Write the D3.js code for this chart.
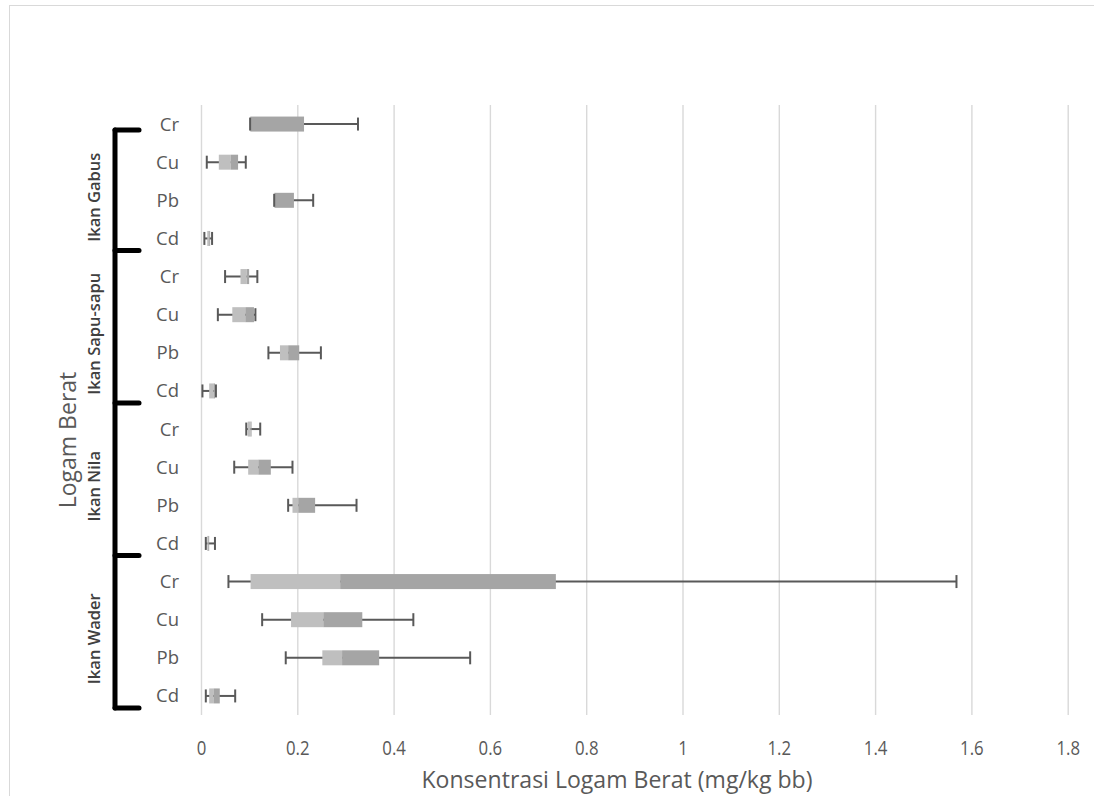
<!DOCTYPE html>
<html>
<head>
<meta charset="utf-8">
<script src="https://cdn.jsdelivr.net/npm/d3@7"></script>
<style>
  body { margin: 0; background: #fff; }
  svg { display: block; }
</style>
</head>
<body>
<svg id="chart" width="1094" height="796"></svg>
<script>
// Fish species (groups) and heavy metals (rows within each group)
const groups = ["Ikan Gabus", "Ikan Sapu-sapu", "Ikan Nila", "Ikan Wader"];
const metals = ["Cr", "Cu", "Pb", "Cd"];

// Box-plot statistics per row, ordered group by group, metal by metal (mg/kg bb)
const minVals    = [0.102, 0.012, 0.152, 0.007,  0.050, 0.035, 0.140, 0.003,  0.094, 0.069, 0.181, 0.010,  0.057, 0.127, 0.176, 0.010];
const q1Vals     = [0.102, 0.037, 0.152, 0.013,  0.082, 0.065, 0.164, 0.017,  0.097, 0.098, 0.190, 0.013,  0.103, 0.187, 0.252, 0.017];
const medianVals = [0.103, 0.062, 0.153, 0.017,  0.095, 0.092, 0.181, 0.026,  0.103, 0.119, 0.202, 0.015,  0.289, 0.254, 0.293, 0.026];
const q3Vals     = [0.214, 0.077, 0.193, 0.019,  0.100, 0.110, 0.204, 0.029,  0.105, 0.145, 0.237, 0.017,  0.737, 0.335, 0.370, 0.039];
const maxVals    = [0.326, 0.093, 0.233, 0.023,  0.117, 0.113, 0.249, 0.031,  0.123, 0.190, 0.323, 0.029,  1.569, 0.441, 0.559, 0.071];

const xTicks = [0, 0.2, 0.4, 0.6, 0.8, 1, 1.2, 1.4, 1.6, 1.8];
const xTitle = "Konsentrasi Logam Berat (mg/kg bb)";
const yTitle = "Logam Berat";

const rows = [];
groups.forEach((g, gi) => metals.forEach((m, mi) => {
  const i = gi * metals.length + mi;
  rows.push({ i, group: g, metal: m,
    min: minVals[i], q1: q1Vals[i], med: medianVals[i], q3: q3Vals[i], max: maxVals[i] });
}));

const svg = d3.select("#chart");
const plot = { left: 201, right: 1067.7, top: 105, bottom: 715 };

const x = d3.scaleLinear().domain([0, 1.8]).range([plot.left, plot.right]);
const y = d3.scaleBand().domain(rows.map(r => r.i)).range([plot.top, plot.bottom]);
const yc = i => y(i) + y.bandwidth() / 2;

const textGray = "#595959";
const bodyFont = "'Open Sans', sans-serif";

// Chart frame
svg.append("rect")
  .attr("x", 9.5).attr("y", 5.5).attr("width", 1100).attr("height", 800)
  .attr("fill", "none").attr("stroke", "#d9d9d9").attr("stroke-width", 1);

// Vertical gridlines + tick labels
const xAxis = d3.axisBottom(x).tickValues(xTicks).tickFormat(d3.format("~g"))
  .tickSize(-(plot.bottom - plot.top)).tickPadding(0);
const gx = svg.append("g").attr("transform", `translate(0,${plot.bottom})`).call(xAxis);
gx.select(".domain").remove();
gx.selectAll(".tick line").attr("stroke", "#d9d9d9").attr("stroke-width", 1.4);
gx.selectAll(".tick text")
  .attr("y", 33).attr("dy", "0.35em")
  .attr("transform", "scale(0.84,1)")
  .attr("fill", textGray)
  .attr("font-family", bodyFont)
  .attr("font-size", 20);

// Axis titles
svg.append("text")
  .attr("x", 617).attr("y", 788)
  .attr("text-anchor", "middle")
  .attr("fill", textGray)
  .attr("font-family", bodyFont)
  .attr("font-size", 23)
  .attr("textLength", 391).attr("lengthAdjust", "spacingAndGlyphs")
  .text(xTitle);

svg.append("text")
  .attr("transform", `translate(76,440) rotate(-90)`)
  .attr("text-anchor", "middle")
  .attr("fill", textGray)
  .attr("font-family", bodyFont)
  .attr("font-size", 23)
  .text(yTitle);

// Metal labels for each row
svg.append("g").selectAll("text").data(rows).join("text")
  .attr("x", 179).attr("y", d => yc(d.i)).attr("dy", "0.35em")
  .attr("text-anchor", "end")
  .attr("fill", textGray)
  .attr("font-family", bodyFont)
  .attr("font-size", 18.5)
  .text(d => d.metal);

// Group bracket
const bx = 115, tickLen = 24;
const firstOf = gi => gi * metals.length;
const groupEdges = [yc(0) + 6];
for (let gi = 1; gi < groups.length; gi++) groupEdges.push(y(firstOf(gi)) - 7);
groupEdges.push(yc(rows.length - 1) + 12);

const bracket = svg.append("g").attr("stroke", "#000").attr("stroke-width", 5).attr("stroke-linecap", "round");
bracket.append("line")
  .attr("x1", bx).attr("x2", bx)
  .attr("y1", groupEdges[0]).attr("y2", groupEdges[groupEdges.length - 1]);
bracket.selectAll("line.tick").data(groupEdges).join("line").attr("class", "tick")
  .attr("x1", bx).attr("x2", bx + tickLen)
  .attr("y1", d => d).attr("y2", d => d);

svg.append("g").selectAll("text").data(groups).join("text")
  .attr("transform", (g, gi) => `translate(94,${(groupEdges[gi] + groupEdges[gi + 1]) / 2 + 7}) rotate(-90)`)
  .attr("text-anchor", "middle")
  .attr("dy", "0.35em")
  .attr("fill", "#404040")
  .attr("font-family", bodyFont)
  .attr("font-weight", 600)
  .attr("font-size", 16.5)
  .text(g => g);

// Box plots: whisker line behind, Q1–median (light) and median–Q3 (dark) segments, end caps on top
const boxH = 15, capH = 13;
const whiskerColor = "#595959";
const boxes = svg.append("g").selectAll("g").data(rows).join("g");

boxes.append("line")
  .attr("x1", d => x(d.min)).attr("x2", d => x(d.max))
  .attr("y1", d => yc(d.i)).attr("y2", d => yc(d.i))
  .attr("stroke", whiskerColor).attr("stroke-width", 2);

boxes.append("rect")
  .attr("x", d => x(d.q1)).attr("width", d => x(d.med) - x(d.q1))
  .attr("y", d => yc(d.i) - boxH / 2).attr("height", boxH)
  .attr("fill", "#bfbfbf");

boxes.append("rect")
  .attr("x", d => x(d.med)).attr("width", d => x(d.q3) - x(d.med))
  .attr("y", d => yc(d.i) - boxH / 2).attr("height", boxH)
  .attr("fill", "#a5a5a5");

boxes.selectAll("line.cap").data(d => [[d.min, d.i], [d.max, d.i]]).join("line").attr("class", "cap")
  .attr("x1", d => x(d[0])).attr("x2", d => x(d[0]))
  .attr("y1", d => yc(d[1]) - capH / 2).attr("y2", d => yc(d[1]) + capH / 2)
  .attr("stroke", whiskerColor).attr("stroke-width", 2);
</script>
</body>
</html>
